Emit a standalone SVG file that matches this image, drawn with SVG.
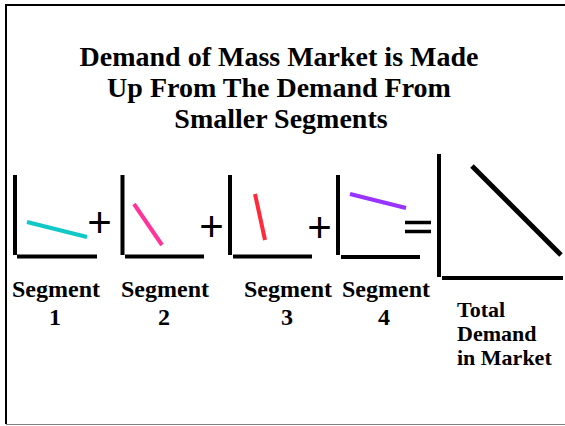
<svg xmlns="http://www.w3.org/2000/svg" width="565" height="426" viewBox="0 0 565 426">
<style>
.t{font-family:'Liberation Serif','DejaVu Serif','Times New Roman',serif;font-weight:bold;fill:#000;text-anchor:middle}
.title{font-size:28px}
.seg{font-size:24px}
.tot{font-size:22px;text-anchor:start}
.ax{stroke:#000;stroke-width:4;fill:none}
.op{font-family:'Liberation Sans',Arial,sans-serif;font-size:42px;fill:#000;text-anchor:middle}
.curve{stroke-width:4;fill:none}
</style>
<rect width="565" height="426" fill="#fff"/>
<g id="frame">
<line x1="6" y1="5" x2="565" y2="5" stroke="#000" stroke-width="2"/>
<line x1="6" y1="4" x2="6" y2="424" stroke="#000" stroke-width="2"/>
<line x1="6" y1="424.5" x2="565" y2="424.5" stroke="#808080" stroke-width="1"/>
</g>
<g id="title">
<text class="t title" x="279" y="66">Demand of Mass Market is Made</text>
<text class="t title" x="279" y="97">Up From The Demand From</text>
<text class="t title" x="281" y="128">Smaller Segments</text>
</g>
<g id="segment1">
<path class="ax" d="M15,175 V255 M17,256.5 H97"/>
<line class="curve" x1="27" y1="222" x2="87" y2="237" stroke="#10c8c8"/>
<text class="t seg" x="56" y="297">Segment</text>
<text class="t seg" x="55" y="325">1</text>
</g>
<g id="segment2">
<path class="ax" d="M122.5,175 V255 M125,256.5 H204"/>
<line class="curve" x1="134" y1="204" x2="162" y2="245" stroke="#ff3399"/>
<text class="t seg" x="165" y="297">Segment</text>
<text class="t seg" x="164" y="325">2</text>
</g>
<g id="segment3">
<path class="ax" d="M230,175 V255 M233,256.5 H312"/>
<line class="curve" x1="255" y1="194" x2="265" y2="240" stroke="#ff2a3a"/>
<text class="t seg" x="288" y="297">Segment</text>
<text class="t seg" x="287" y="325">3</text>
</g>
<g id="segment4">
<path class="ax" d="M338,175 V255 M341,257 H420"/>
<line class="curve" x1="350" y1="194" x2="406" y2="208" stroke="#9933ff"/>
<text class="t seg" x="386" y="297">Segment</text>
<text class="t seg" x="384" y="325">4</text>
</g>
<g id="total">
<path class="ax" d="M439,154 V277 M442,278 H563" stroke-width="5"/>
<line x1="472" y1="166" x2="561" y2="255" stroke="#000" stroke-width="5"/>
<text class="t tot" x="457" y="317">Total</text>
<text class="t tot" x="457" y="341">Demand</text>
<text class="t tot" x="457" y="365">in Market</text>
</g>
<g id="connectors">
<text class="op" x="99.5" y="237">+</text>
<text class="op" x="211.5" y="241">+</text>
<text class="op" x="319.5" y="242">+</text>
<path d="M405,222.5 H431 M405,231.5 H431" stroke="#000" stroke-width="3.5"/>
</g>
</svg>
